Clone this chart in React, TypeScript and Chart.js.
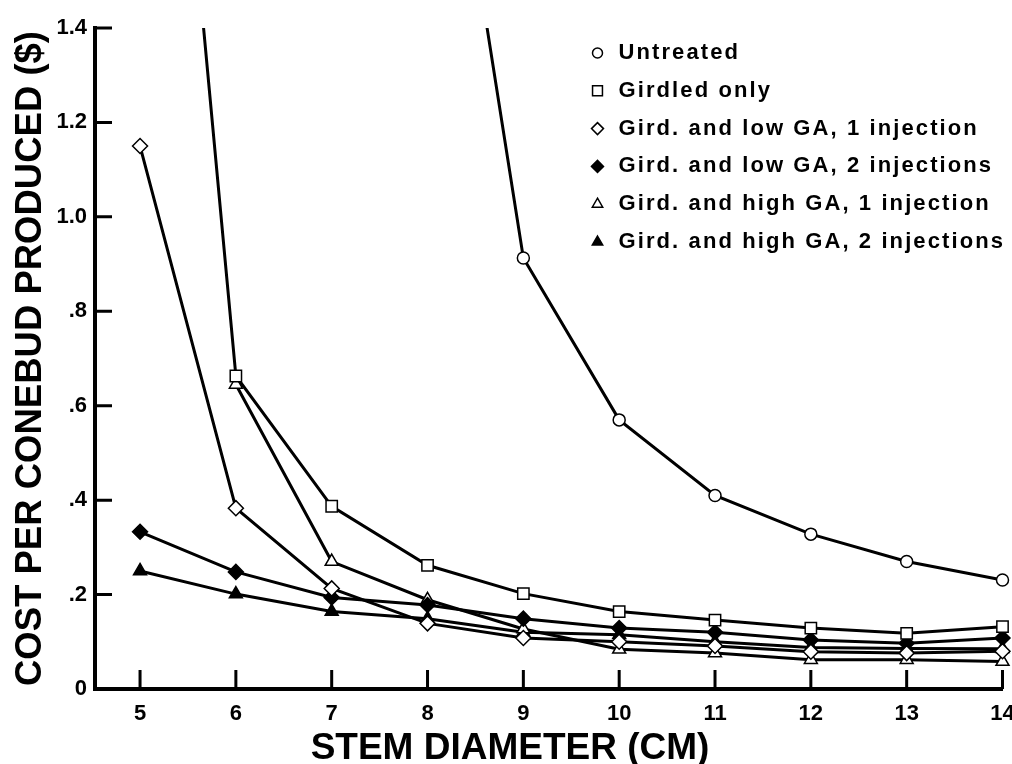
import React, { useEffect, useRef } from 'react';
import { Chart, registerables } from 'chart.js';
import { drawPoint } from 'chart.js/helpers';

Chart.register(...registerables);

// ---- data ----
const stemDiameters = [5, 6, 7, 8, 9, 10, 11, 12, 13, 14];
const untreated = [null, null, null, 2.2, 0.913, 0.57, 0.41, 0.328, 0.27, 0.231];
const girdledOnly = [2.85, 0.663, 0.387, 0.262, 0.202, 0.164, 0.146, 0.129, 0.118, 0.132];
const lowGaOneInjection = [1.15, 0.383, 0.213, 0.139, 0.108, 0.1, 0.091, 0.079, 0.076, 0.08];
const lowGaTwoInjections = [0.333, 0.248, 0.194, 0.178, 0.149, 0.129, 0.12, 0.104, 0.097, 0.108];
const highGaOneInjection = [null, 0.645, 0.27, 0.189, 0.127, 0.084, 0.076, 0.062, 0.062, 0.058];
const highGaTwoInjections = [0.25, 0.201, 0.164, 0.149, 0.12, 0.115, 0.1, 0.088, 0.086, 0.085];

const seriesNames = [
  'Untreated',
  'Girdled only',
  'Gird. and low GA, 1 injection',
  'Gird. and low GA, 2 injections',
  'Gird. and high GA, 1 injection',
  'Gird. and high GA, 2 injections',
];

const yTickValues = [0, 0.2, 0.4, 0.6, 0.8, 1.0, 1.2, 1.4];
const yTickLabels = ['0', '.2', '.4', '.6', '.8', '1.0', '1.2', '1.4'];
const xTickLabels = ['5', '6', '7', '8', '9', '10', '11', '12', '13', '14'];

const xAxisTitle = 'STEM DIAMETER (CM)';
const yAxisTitle = 'COST PER CONEBUD PRODUCED ($)';

// ---- styling ----
const FONT = '"Liberation Sans", Arial, Helvetica, sans-serif';
const allSeries = [untreated, girdledOnly, lowGaOneInjection, lowGaTwoInjections, highGaOneInjection, highGaTwoInjections];
const pointStyles = ['circle', 'rect', 'rectRot', 'rectRot', 'triangle', 'triangle'];
const pointFills = ['#fff', '#fff', '#fff', '#000', '#fff', '#000'];
const pointRadii = [6, 8, 7.5, 7.5, 7.5, 7.5];
const legendRadii = [5, 7, 6, 6, 6, 6];

const insideTicksPlugin = {
  id: 'insideTicks',
  afterDraw(chart: any) {
    const { ctx, chartArea, scales } = chart;
    ctx.save();
    ctx.strokeStyle = '#000';
    ctx.lineWidth = 3;
    ctx.beginPath();
    yTickValues.forEach((v) => {
      if (v === 0) return;
      const y = scales.y.getPixelForValue(v);
      ctx.moveTo(chartArea.left, y);
      ctx.lineTo(chartArea.left + 17, y);
    });
    stemDiameters.forEach((v) => {
      const x = scales.x.getPixelForValue(v);
      ctx.moveTo(x, chartArea.bottom);
      ctx.lineTo(x, chartArea.bottom - 19);
    });
    ctx.stroke();
    ctx.restore();
  },
};

const xTitlePlugin = {
  id: 'xTitle',
  afterDraw(chart: any) {
    const { ctx, chartArea } = chart;
    ctx.save();
    ctx.font = `bold 37px ${FONT}`;
    ctx.fillStyle = '#000';
    ctx.textAlign = 'center';
    ctx.textBaseline = 'middle';
    ctx.fillText(xAxisTitle, chartArea.left + 415, chartArea.bottom + 60);
    ctx.restore();
  },
};

const legendPlugin = {
  id: 'customLegend',
  afterDraw(chart: any) {
    const { ctx, chartArea } = chart;
    const markerX = chartArea.right - 405;
    const textX = chartArea.right - 384;
    const baseY = chartArea.top + 31;
    const step = 37.8;
    ctx.save();
    ctx.font = `bold 22px ${FONT}`;
    (ctx as any).letterSpacing = '2.1px';
    ctx.textAlign = 'left';
    ctx.textBaseline = 'alphabetic';
    chart.data.datasets.forEach((ds: any, i: number) => {
      const y = baseY + i * step;
      ctx.fillStyle = ds.pointBackgroundColor;
      ctx.strokeStyle = '#000';
      ctx.lineWidth = 1.5;
      drawPoint(ctx, { pointStyle: ds.pointStyle, rotation: 0, radius: legendRadii[i], borderWidth: 1.5 }, markerX, y - 6);
      ctx.fillStyle = '#000';
      ctx.fillText(ds.label, textX, y);
    });
    ctx.restore();
  },
};

export default function App() {
  const canvasRef = useRef<HTMLCanvasElement | null>(null);

  useEffect(() => {
    const canvas = canvasRef.current;
    if (!canvas) return;

    const datasets = allSeries.map((series, i) => ({
      label: seriesNames[i],
      data: stemDiameters.map((x, j) => ({ x, y: series[j] })),
      borderColor: '#000',
      borderWidth: 3,
      tension: 0,
      fill: false,
      pointStyle: pointStyles[i],
      pointRadius: pointRadii[i],
      pointHoverRadius: pointRadii[i],
      pointBackgroundColor: pointFills[i],
      pointBorderColor: '#000',
      pointBorderWidth: 1.5,
      clip: { left: 14, top: 0, right: 14, bottom: 14 },
    }));

    const chart = new Chart(canvas, {
      type: 'line',
      data: { datasets },
      options: {
        animation: false,
        responsive: false,
        devicePixelRatio: 1,
        layout: { padding: { top: 28, right: 9, bottom: 0, left: 0 } },
        plugins: {
          legend: { display: false },
          tooltip: { enabled: false },
        },
        scales: {
          x: {
            type: 'linear',
            min: 4.53,
            max: 14,
            afterBuildTicks(scale: any) {
              scale.ticks = stemDiameters.map((v) => ({ value: v }));
            },
            afterFit(scale: any) {
              scale.height = 75;
              scale.paddingLeft = 0;
              scale.paddingRight = 0;
            },
            ticks: {
              autoSkip: false,
              maxRotation: 0,
              padding: 12,
              color: '#000',
              font: { family: FONT, size: 22, weight: 'bold' },
              callback: (_v: any, i: number) => xTickLabels[i],
            },
            grid: { display: false, drawTicks: false },
            border: { display: true, color: '#000', width: 4 },
            title: { display: false },
          },
          y: {
            type: 'linear',
            min: 0,
            max: 1.4,
            afterBuildTicks(scale: any) {
              scale.ticks = yTickValues.map((v) => ({ value: v }));
            },
            afterFit(scale: any) {
              scale.width = 95;
              scale.paddingTop = 0;
              scale.paddingBottom = 0;
            },
            ticks: {
              autoSkip: false,
              padding: 8,
              color: '#000',
              font: { family: FONT, size: 22, weight: 'bold' },
              callback: (_v: any, i: number) => yTickLabels[i],
            },
            grid: { display: false, drawTicks: false },
            border: { display: true, color: '#000', width: 4 },
            title: {
              display: true,
              text: yAxisTitle,
              color: '#000',
              font: { family: FONT, size: 36.5, weight: 'bold', lineHeight: 1 },
              padding: { top: 13, bottom: 0 },
            },
          },
        },
      },
      plugins: [insideTicksPlugin, xTitlePlugin, legendPlugin],
    } as any);

    return () => chart.destroy();
  }, []);

  return (
    <div style={{ position: 'absolute', left: 0, top: 0, width: 1012, height: 764, overflow: 'hidden', background: '#fff' }}>
      <canvas ref={canvasRef} width={1012} height={764} style={{ display: 'block', width: 1012, height: 764 }} />
    </div>
  );
}
